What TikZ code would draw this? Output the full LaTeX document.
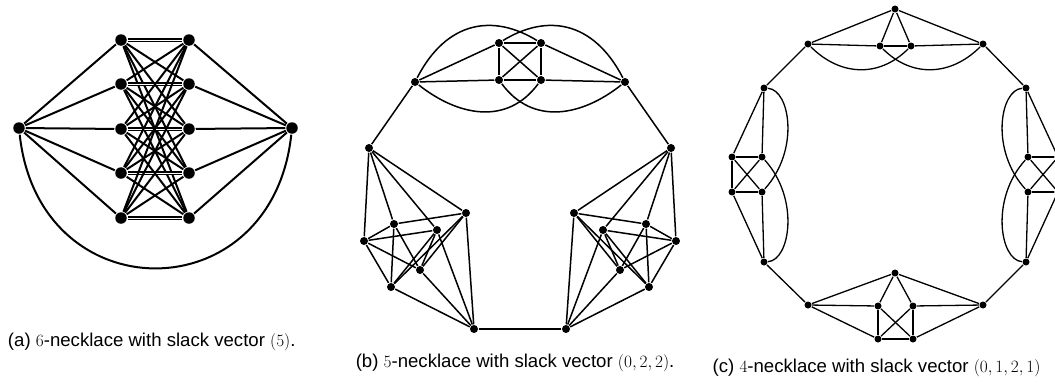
\documentclass[tikz,border=0pt]{standalone}
\usepackage{fontspec}
\setmainfont{Liberation Sans}
\tikzset{
  every picture/.style={x=1pt, y=-1pt},
  vtx/.style={circle, fill=black, inner sep=0pt, minimum size=#1},
  vtx/.default=8pt,
  dbl/.style={double=white, double distance=0.9pt, line width=1.1pt},
  subcap/.style={font=\fontsize{18.6}{21}\selectfont, anchor=west, inner sep=0pt},
}
\begin{document}
\begin{tikzpicture}
  \useasboundingbox (0,0) rectangle (1055,383);
  \clip (0,0) rectangle (1055,383);
  % (a) 6-necklace, one bead
  \begin{scope}[line width=2pt]
    \node[vtx=11.5pt] (a-l) at (19,128) {};
    \node[vtx=11.5pt] (a-r) at (292,128) {};
    \foreach \i/\y in {1/40, 2/84, 3/129, 4/173, 5/218} {
      \node[vtx=11.5pt] (a-p\i) at (121,\y) {};
      \node[vtx=11.5pt] (a-q\i) at (189,\y) {};
    }
    \foreach \i in {1,...,5} {
      \draw (a-l) -- (a-p\i);
      \draw (a-r) -- (a-q\i);
      \foreach \j in {1,...,5} {\ifnum\i=\j\relax \draw[dbl] (a-p\i) -- (a-q\j); \else \draw (a-p\i) -- (a-q\j); \fi}
    }
    \draw (a-l) .. controls +(20,185) and +(-20,185) .. (a-r);
    \node[subcap] (a-cap) at (7,342) {(a) $6$-necklace with slack vector $(5)$.};
  \end{scope}
  % (b) 5-necklace, three beads
  \begin{scope}[line width=1.5pt]
    \node[vtx] (b-lt) at (415,82) {};
    \node[vtx] (b-rt) at (625,82) {};
    \node[vtx] (b-tl) at (499,43) {};
    \node[vtx] (b-tr) at (541,43) {};
    \node[vtx] (b-bl) at (499,80) {};
    \node[vtx] (b-br) at (541,80) {};
    \foreach \s/\m in {l/1, r/-1} {
      \node[vtx] (b-\s-a) at ({520-\m*151},148) {};
      \node[vtx] (b-\s-b) at ({520-\m*54},213) {};
      \node[vtx] (b-\s-c) at ({520-\m*126},224) {};
      \node[vtx] (b-\s-d) at ({520-\m*83},230) {};
      \node[vtx] (b-\s-e) at ({520-\m*156},241) {};
      \node[vtx] (b-\s-f) at ({520-\m*100},270) {};
      \node[vtx] (b-\s-g) at ({520-\m*129},287) {};
      \node[vtx] (b-\s-h) at ({520-\m*46},329) {};
      \foreach \u/\v in {a/e, a/c, a/d, a/b, h/g, h/f, h/d, h/b, e/c, e/d, e/f, e/g, c/b, c/g, c/f, d/g, d/f, b/g, b/f}
        \draw (b-\s-\u) -- (b-\s-\v);
    }
    \foreach \u/\v in {lt/tl, lt/bl, rt/tr, rt/br, tl/tr, tl/bl, tr/br, bl/br, tl/br, tr/bl, lt/l-a, rt/r-a, l-h/r-h}
      \draw (b-\u) -- (b-\v);
    \draw (b-lt) .. controls +(32,-62) and +(-47,-29) .. (b-tr);
    \draw (b-lt) .. controls +(43,34) and +(-34,46) .. (b-br);
    \draw (b-rt) .. controls +(-32,-62) and +(47,-29) .. (b-tl);
    \draw (b-rt) .. controls +(-43,34) and +(34,46) .. (b-bl);
    \node[subcap] (b-cap) at (355,363) {(b) $5$-necklace with slack vector $(0,2,2)$.};
  \end{scope}
  % (c) 4-necklace, four beads
  \begin{scope}[line width=1.3pt, vtx/.default=7pt]
    % top bead
    \node[vtx] (c-tp) at (808,44) {};
    \node[vtx] (c-tq) at (983,44) {};
    \node[vtx] (c-tt) at (895,9) {};
    \node[vtx] (c-tu) at (880,46) {};
    \node[vtx] (c-tv) at (911,46) {};
    \foreach \u/\v in {tp/tt, tq/tt, tt/tu, tt/tv, tu/tv, tp/tu, tq/tv}
      \draw (c-\u) -- (c-\v);
    \draw (c-tp) .. controls +(32,32) and +(-32,32) .. (c-tv);
    \draw (c-tq) .. controls +(-32,32) and +(32,32) .. (c-tu);
    % side beads
    \foreach \s/\m in {l/1, r/-1} {
      \node[vtx] (c-\s-w1) at ({895-\m*131},88) {};
      \node[vtx] (c-\s-w2) at ({895-\m*131},262) {};
      \node[vtx] (c-\s-a1) at ({895-\m*163},157) {};
      \node[vtx] (c-\s-a2) at ({895-\m*133},157) {};
      \node[vtx] (c-\s-a3) at ({895-\m*163},192) {};
      \node[vtx] (c-\s-a4) at ({895-\m*133},192) {};
      \foreach \u/\v in {w1/a1, w1/a2, w2/a3, w2/a4, a1/a2, a3/a4, a1/a3, a1/a4, a2/a3}
        \draw (c-\s-\u) -- (c-\s-\v);
      \draw (c-\s-w1) .. controls +({\m*26},2) and +({\m*38},-42) .. (c-\s-a4);
      \draw (c-\s-w2) .. controls +({\m*26},-2) and +({\m*38},42) .. (c-\s-a2);
    }
    % bottom bead
    \node[vtx] (c-bp) at (808,305) {};
    \node[vtx] (c-bq) at (983,305) {};
    \node[vtx] (c-bs) at (895,273) {};
    \node[vtx] (c-b1) at (878,306) {};
    \node[vtx] (c-b2) at (913,306) {};
    \node[vtx] (c-b3) at (878,339) {};
    \node[vtx] (c-b4) at (913,339) {};
    \foreach \u/\v in {bp/bs, bq/bs, bs/b1, bs/b2, bp/b1, bq/b2, bp/b3, bq/b4, b1/b3, b2/b4, b3/b4, b1/b4, b2/b3}
      \draw (c-\u) -- (c-\v);
    % necklace links
    \foreach \u/\v in {tp/l-w1, l-w2/bp, bq/r-w2, r-w1/tq}
      \draw (c-\u) -- (c-\v);
    \node[subcap] (c-cap) at (712,368) {(c) $4$-necklace with slack vector $(0,1,2,1)$};
  \end{scope}
\end{tikzpicture}
\end{document}
